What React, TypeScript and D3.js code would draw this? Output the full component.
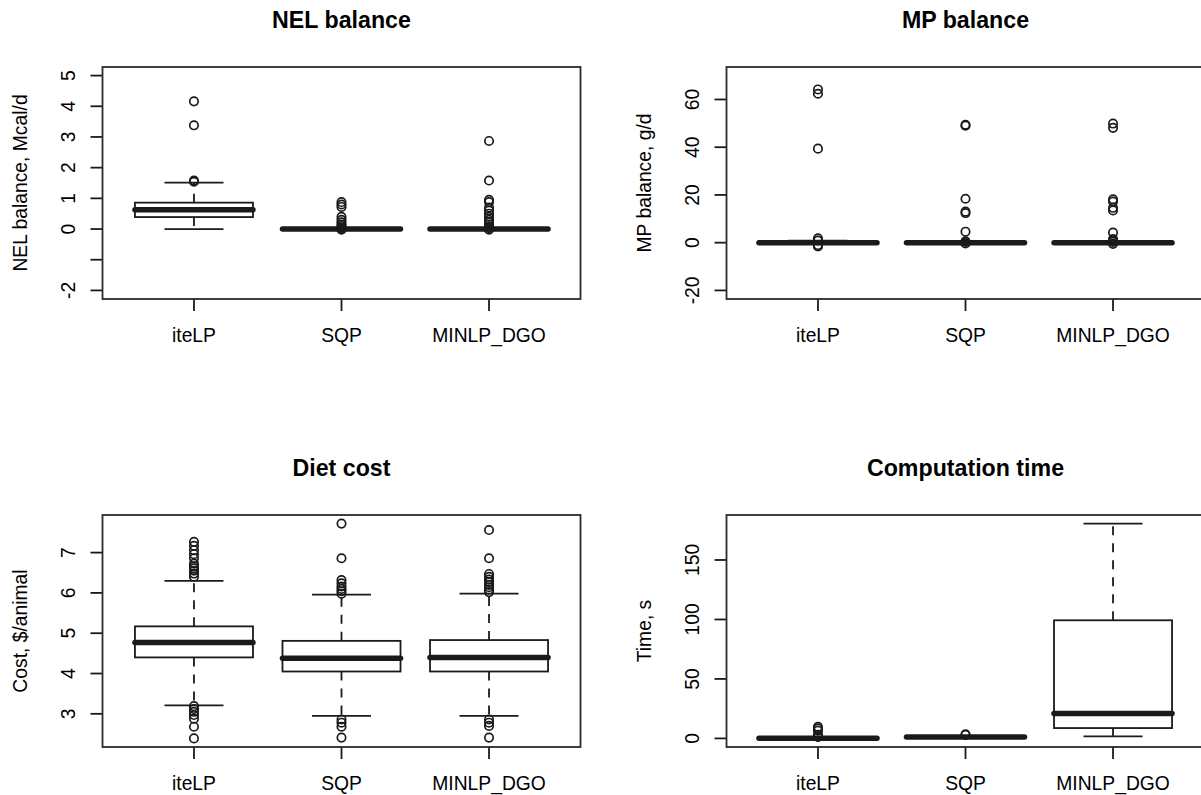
import React from 'react';
import * as d3 from 'd3';

// categories shared by all four panels
const categories = ['iteLP', 'SQP', 'MINLP_DGO'];

// boxplot stats: [lower whisker, Q1, median, Q3, upper whisker]
const nelStats = [[0, 0.39, 0.63, 0.86, 1.51], [0, 0, 0, 0, 0], [0, 0, 0, 0, 0]];
const nelOutliers = [
  [4.16, 3.38, 1.58, 1.54],
  [0.88, 0.8, 0.72, 0.4, 0.3, 0.22, 0.15, 0.1, 0.05, 0.02, -0.02],
  [2.87, 1.58, 0.95, 0.88, 0.7, 0.6, 0.5, 0.4, 0.3, 0.22, 0.15, 0.08, 0.03, -0.02],
];
const nelTicks = [-2, -1, 0, 1, 2, 3, 4, 5];
const nelTickLabels = ['-2', '', '0', '1', '2', '3', '4', '5'];

const mpStats = [[0, 0, 0, 0.3, 0.85], [0, 0, 0, 0, 0], [0, 0, 0, 0, 0]];
const mpOutliers = [
  [64.2, 62.4, 39.4, 1.8, 0.9, -1.0, -1.6],
  [49.4, 49.0, 18.4, 13.0, 12.4, 4.6, 0.6, 0.3, -0.3],
  [49.9, 48.1, 18.2, 17.2, 14.6, 13.5, 4.2, 1.5, 0.8, 0.3, -0.5],
];
const mpTicks = [-20, 0, 20, 40, 60];

const costStats = [[3.21, 4.4, 4.77, 5.17, 6.3], [2.95, 4.05, 4.38, 4.81, 5.96], [2.95, 4.05, 4.4, 4.83, 5.98]];
const costOutliers = [
  [7.27, 7.17, 7.06, 6.96, 6.86, 6.73, 6.66, 6.61, 6.55, 6.48, 6.4, 3.19, 3.12, 3.05, 2.97, 2.88, 2.68, 2.39],
  [7.72, 6.86, 6.32, 6.24, 6.16, 6.1, 6.04, 5.98, 2.86, 2.78, 2.68, 2.41],
  [7.56, 6.86, 6.47, 6.4, 6.33, 6.27, 6.2, 6.14, 6.08, 6.02, 2.86, 2.78, 2.7, 2.41],
];
const costTicks = [3, 4, 5, 6, 7];

const timeStats = [[0, 0.1, 0.2, 0.4, 0.8], [0.8, 1.0, 1.2, 1.4, 1.8], [1.7, 8.7, 21, 99.3, 180.6]];
const timeOutliers = [[9.7, 8.2, 6.5, 3.0, 1.5, 1.2], [3.4, 2.9], []];
const timeTicks = [0, 50, 100, 150];

const FONT = '"Liberation Sans", Arial, Helvetica, sans-serif';
const plotW = 478;
const plotH = 232;

const panels = [
  { title: 'NEL balance', ylab: 'NEL balance, Mcal/d', stats: nelStats, outliers: nelOutliers,
    ylim: [-2, 5], ticks: nelTicks, labels: nelTickLabels, left: 102.5, top: 67 },
  { title: 'MP balance', ylab: 'MP balance, g/d', stats: mpStats, outliers: mpOutliers,
    ylim: [-20, 70], ticks: mpTicks, labels: null, left: 726.5, top: 67 },
  { title: 'Diet cost', ylab: 'Cost, $/animal', stats: costStats, outliers: costOutliers,
    ylim: null, ticks: costTicks, labels: null, left: 102.5, top: 515 },
  { title: 'Computation time', ylab: 'Time, s', stats: timeStats, outliers: timeOutliers,
    ylim: null, ticks: timeTicks, labels: null, left: 726.5, top: 515 },
];

// R style: extend range by 4% each side
function padRange(lo, hi) {
  const d = (hi - lo) * 0.04;
  return [lo - d, hi + d];
}

function Panel({ p }) {
  const x = d3.scaleLinear().domain([0.38, 3.62]).range([p.left, p.left + plotW]);
  let dom;
  if (p.ylim) dom = padRange(p.ylim[0], p.ylim[1]);
  else {
    const all = p.stats.flat().concat(p.outliers.flat());
    const ext = d3.extent(all);
    dom = padRange(ext[0], ext[1]);
  }
  const bottom = p.top + plotH;
  const y = d3.scaleLinear().domain(dom).range([bottom, p.top]);
  const halfBox = x(1.4) - x(1);
  const halfCap = x(1.2) - x(1);
  const cx = p.left + plotW / 2;
  const cy = p.top + plotH / 2;
  const ink = '#1a1a1a';

  return (
    <g>
      <text x={cx} y={p.top - 39} textAnchor="middle" fontSize={23.2} fontWeight="bold" fontFamily={FONT}>
        {p.title}
      </text>
      <text transform={`translate(${p.left - 75.5},${cy}) rotate(-90)`} textAnchor="middle"
        fontSize={19.3} fontFamily={FONT}>{p.ylab}</text>

      {/* y axis */}
      {p.ticks.map((t, i) => (
        <g key={'yt' + i}>
          <line x1={p.left - 12} x2={p.left} y1={y(t)} y2={y(t)} stroke={ink} strokeWidth={1.8} />
          <text transform={`translate(${p.left - 28},${y(t)}) rotate(-90)`} textAnchor="middle"
            fontSize={19.3} fontFamily={FONT}>{p.labels ? p.labels[i] : String(t)}</text>
        </g>
      ))}

      {/* x axis */}
      {categories.map((c, i) => (
        <g key={'xt' + i}>
          <line x1={x(i + 1)} x2={x(i + 1)} y1={bottom} y2={bottom + 12} stroke={ink} strokeWidth={1.8} />
          <text x={x(i + 1)} y={bottom + 43} textAnchor="middle" fontSize={19.3} fontFamily={FONT}>{c}</text>
        </g>
      ))}

      {/* boxes */}
      {p.stats.map((s, i) => {
        const xc = x(i + 1);
        return (
          <g key={'b' + i} stroke={ink} fill="none">
            {s[3] < s[4] && (
              <line x1={xc} x2={xc} y1={y(s[3])} y2={y(s[4])} strokeWidth={1.8} strokeDasharray="9,8" />
            )}
            {s[0] < s[1] && (
              <line x1={xc} x2={xc} y1={y(s[1])} y2={y(s[0])} strokeWidth={1.8} strokeDasharray="9,8" />
            )}
            <line x1={xc - halfCap} x2={xc + halfCap} y1={y(s[4])} y2={y(s[4])} strokeWidth={1.8} />
            <line x1={xc - halfCap} x2={xc + halfCap} y1={y(s[0])} y2={y(s[0])} strokeWidth={1.8} />
            <rect x={xc - halfBox} y={y(s[3])} width={2 * halfBox} height={Math.max(0, y(s[1]) - y(s[3]))}
              strokeWidth={1.8} />
            <line x1={xc - halfBox} x2={xc + halfBox} y1={y(s[2])} y2={y(s[2])} strokeWidth={5.5}
              strokeLinecap="round" />
            {p.outliers[i].map((v, j) => (
              <circle key={j} cx={xc} cy={y(v)} r={4.2} strokeWidth={1.7} />
            ))}
          </g>
        );
      })}

      {/* frame */}
      <rect x={p.left} y={p.top} width={plotW} height={plotH} fill="none" stroke="#2a2a2a" strokeWidth={1.8} />
    </g>
  );
}

export default function App() {
  return (
    <svg width={1201} height={795} style={{ position: 'absolute', left: 0, top: 0, background: '#fff' }}>
      <rect width={1201} height={795} fill="#fff" />
      {panels.map((p, i) => <Panel key={i} p={p} />)}
    </svg>
  );
}
